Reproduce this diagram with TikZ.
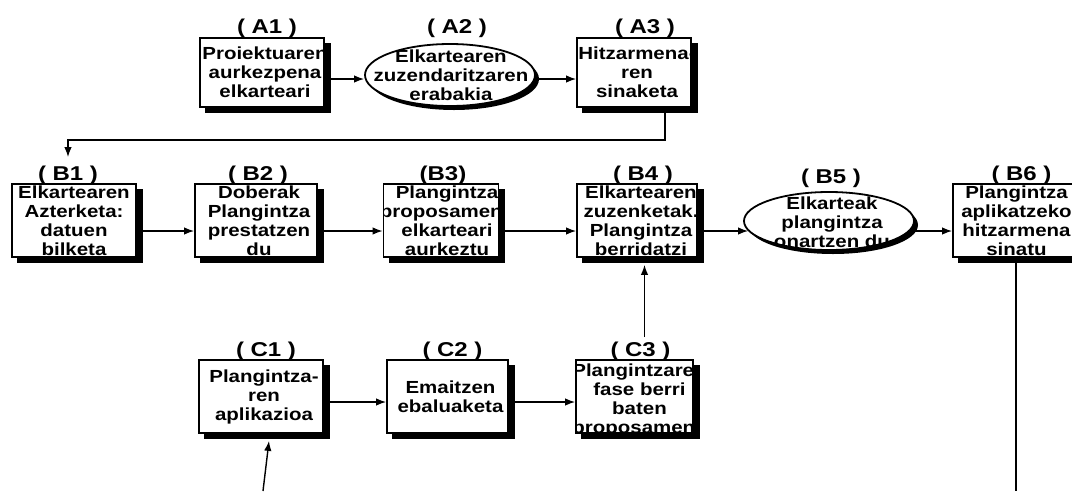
\documentclass[tikz,border=0pt]{standalone}
\usepackage{fontspec}
\newfontfamily\boxfont{Liberation Sans}[FakeStretch=1.17]
\newfontfamily\labfont{Liberation Sans}[FakeStretch=1.2]
\usetikzlibrary{shapes.geometric,arrows.meta,backgrounds}
\tikzset{
  txtdx/.initial=3pt,
  txtdy/.initial=0pt,
  boxtxt/.style={font=\boxfont\bfseries\fontsize{17.5}{19}\selectfont, align=center, inner sep=0pt, text=black},
  stepbox/.style={draw, line width=1.8pt, fill=white, rectangle, inner sep=0pt,
    path picture={\node[boxtxt] at ([xshift=\pgfkeysvalueof{/tikz/txtdx},yshift=\pgfkeysvalueof{/tikz/txtdy}]path picture bounding box.center) {#1};}},
  ellbox/.style={draw, line width=1.8pt, fill=white, ellipse, inner sep=0pt},
  lab/.style={font=\labfont\bfseries\fontsize{20}{22}\selectfont, anchor=base, inner sep=0pt},
  conn/.style={line width=1.4pt},
  arr/.style={line width=1.4pt, -{Latex[length=10pt,width=7.5pt]}},
}
\begin{document}
\begin{tikzpicture}[x=1pt,y=-1pt]
\useasboundingbox (0,0) rectangle (1072,491);
% row A
\node[stepbox={Proiektuaren\\aurkezpena\\elkarteari}, minimum width=124pt, minimum height=69pt] (a1) at (262,72.5) {};
\node[ellbox, minimum width=170pt, minimum height=62pt] (a2) at (450,75) {};
\node[boxtxt] (a2t) at (451,75) {Elkartearen\\zuzendaritzaren\\erabakia};
\node[stepbox={Hitzarmena-\\ren\\sinaketa}, minimum width=114pt, minimum height=69pt] (a3) at (634,72.5) {};
% row B
\node[stepbox={Elkartearen\\Azterketa:\\datuen\\bilketa}, txtdx=0pt, minimum width=124pt, minimum height=73pt] (b1) at (74,220.5) {};
\node[stepbox={Doberak\\Plangintza\\prestatzen\\du}, minimum width=122pt, minimum height=73pt] (b2) at (256,220.5) {};
\node[stepbox={Plangintza\\proposamena\\elkarteari\\aurkeztu}, txtdx=6pt, minimum width=115pt, minimum height=73pt] (b3) at (441,220.5) {};
\node[stepbox={Elkartearen\\zuzenketak.\\Plangintza\\berridatzi}, txtdx=4pt, minimum width=120pt, minimum height=73pt] (b4) at (637,220.5) {};
\node[ellbox, minimum width=170pt, minimum height=58pt] (b5) at (829,221) {};
\node[boxtxt] (b5t) at (832,222) {Elkarteak\\plangintza\\onartzen du};
\node[stepbox={Plangintza\\aplikatzeko\\hitzarmena\\sinatu}, minimum width=121pt, minimum height=73pt] (b6) at (1013.5,220.5) {};
% row C
\node[stepbox={Plangintza-\\ren\\aplikazioa}, minimum width=124pt, minimum height=73pt] (c1) at (261,396.5) {};
\node[stepbox={Emaitzen\\ebaluaketa}, minimum width=121pt, minimum height=73pt] (c2) at (447.5,396.5) {};
\node[stepbox={Plangintzaren\\fase berri\\baten\\proposamena}, txtdx=5pt, txtdy=-4pt, minimum width=117pt, minimum height=73pt] (c3) at (634.5,396.5) {};
% labels
\node[lab] (la1) at ([xshift=5pt,yshift=4pt]a1.north) {( A1 )};
\node[lab] (la2) at ([xshift=7pt,yshift=10pt]a2.north) {( A2 )};
\node[lab] (la3) at ([xshift=11pt,yshift=4pt]a3.north) {( A3 )};
\node[lab] (lb1) at ([xshift=-6pt,yshift=3pt]b1.north) {( B1 )};
\node[lab] (lb2) at ([xshift=2pt,yshift=3pt]b2.north) {( B2 )};
\node[lab] (lb3) at ([xshift=2pt,yshift=3pt]b3.north) {(B3)};
\node[lab] (lb4) at ([xshift=6pt,yshift=3pt]b4.north) {( B4 )};
\node[lab] (lb5) at ([xshift=2pt,yshift=8pt]b5.north) {( B5 )};
\node[lab] (lb6) at ([xshift=8pt,yshift=3pt]b6.north) {( B6 )};
\node[lab] (lc1) at ([xshift=5pt,yshift=3pt]c1.north) {( C1 )};
\node[lab] (lc2) at ([xshift=5pt,yshift=3pt]c2.north) {( C2 )};
\node[lab] (lc3) at ([xshift=6pt,yshift=3pt]c3.north) {( C3 )};
% shadows
\begin{scope}[on background layer]
\foreach \n in {a1,a3,b1,b2,b3,b4,b6,c1,c2,c3}
  \fill[black] ([shift={(6pt,-5.5pt)}]\n.south west) rectangle ([shift={(6pt,-5.5pt)}]\n.north east);
\fill[black] ([shift={(4pt,-4pt)}]a2.center) ellipse [x radius=85pt, y radius=31pt];
\fill[black] ([shift={(4pt,-4pt)}]b5.center) ellipse [x radius=85pt, y radius=29pt];
\end{scope}
% row coordinates
\coordinate (ya) at (0,79);
\coordinate (yb) at (0,231);
\coordinate (yc) at (0,402);
\coordinate (b5w) at ([xshift=5pt]b5.west);
% connectors row A
\draw[arr] (a1.east |- ya) -- (a2.west |- ya);
\draw[arr] (a2.east |- ya) -- (a3.west |- ya);
\coordinate (k1) at (665,140);
\coordinate (k2) at (68,140);
\coordinate (b1in) at ([xshift=-6pt,yshift=26pt]b1.north);
\draw[arr] (a3.south -| k1) -- (k1) -- (k2) -- (b1in);
% connectors row B
\draw[arr] (b1.east |- yb) -- (b2.west |- yb);
\draw[arr] (b2.east |- yb) -- (b3.west |- yb);
\draw[arr] (b3.east |- yb) -- (b4.west |- yb);
\draw[arr] (b4.east |- yb) -- (b5w |- yb);
\draw[arr] (b5.east |- yb) -- (b6.west |- yb);
\coordinate (b6out) at (1016,491);
\draw[conn] (b6out |- b6.south) -- (b6out);
% connectors row C
\draw[arr] (c1.east |- yc) -- (c2.west |- yc);
\draw[arr] (c2.east |- yc) -- (c3.west |- yc);
\coordinate (c3up) at ([xshift=10pt,yshift=22pt]c3.north);
\coordinate (b4in) at ([yshift=-7pt]b4.south);
\draw[arr] (c3up) -- (c3up |- b4in);
\coordinate (c1src) at (263,491);
\draw[arr] (c1src) -- ([xshift=8pt,yshift=-7pt]c1.south);
\end{tikzpicture}
\end{document}
